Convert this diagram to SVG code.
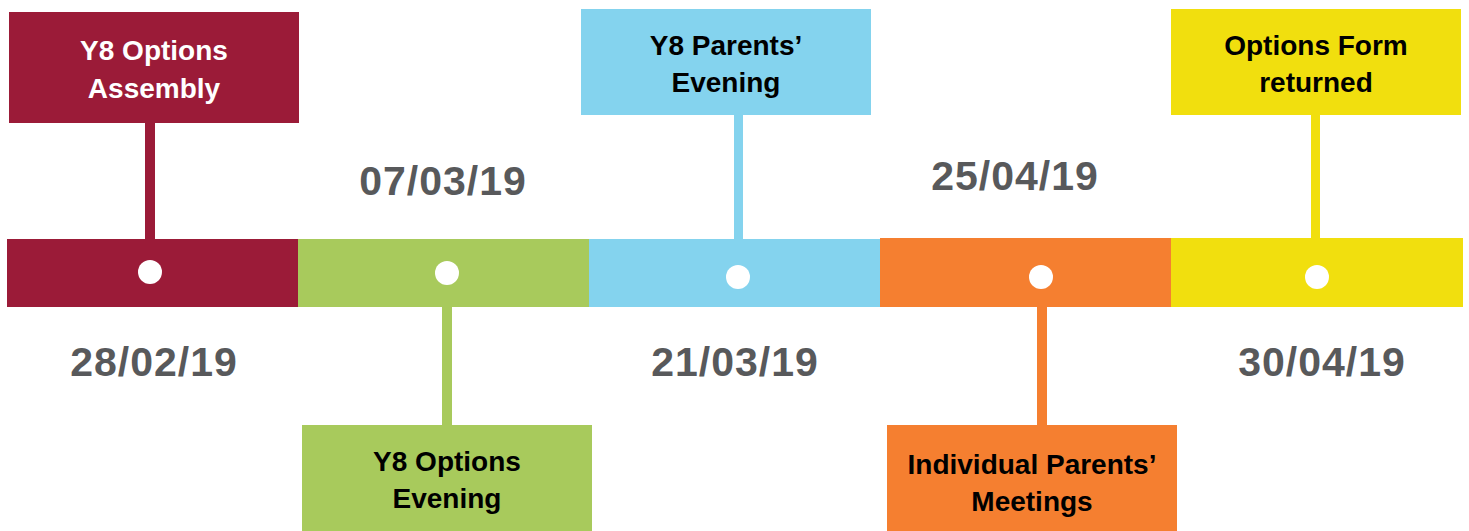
<svg xmlns="http://www.w3.org/2000/svg" width="1469" height="531" viewBox="0 0 1469 531">
<style>
.t{font-family:"Liberation Sans",Arial,sans-serif;font-weight:bold;font-size:28px;text-anchor:middle}
.d{font-family:"Liberation Sans",Arial,sans-serif;font-weight:bold;font-size:41px;letter-spacing:1px;text-anchor:middle;fill:#58595b}
.dot{fill:#ffffff}
</style>
<rect width="1469" height="531" fill="#ffffff"/>
<g id="connectors">
<rect x="145" y="120" width="10" height="122" fill="#9b1b38"/>
<rect x="442" y="304" width="10" height="124" fill="#a8ca5c"/>
<rect x="734" y="112" width="9" height="130" fill="#84d3ee"/>
<rect x="1037" y="304" width="10" height="124" fill="#f57f30"/>
<rect x="1311" y="112" width="9" height="129" fill="#f1df0e"/>
</g>
<g id="timeline">
<rect x="7" y="239" width="292" height="68" fill="#9b1b38"/>
<rect x="298" y="239" width="292" height="68" fill="#a8ca5c"/>
<rect x="589" y="239" width="292" height="68" fill="#84d3ee"/>
<rect x="880" y="238" width="292" height="69" fill="#f57f30"/>
<rect x="1171" y="238" width="292" height="69" fill="#f1df0e"/>
<circle class="dot" cx="150" cy="272" r="12"/>
<circle class="dot" cx="447" cy="273" r="12"/>
<circle class="dot" cx="738" cy="277" r="12"/>
<circle class="dot" cx="1041" cy="277" r="12"/>
<circle class="dot" cx="1317" cy="277" r="12"/>
</g>
<g id="n1">
<rect x="9" y="12" width="290" height="111" fill="#9b1b38"/>
<text class="t" x="154" y="60" fill="#ffffff">Y8 Options</text>
<text class="t" x="154" y="98" fill="#ffffff">Assembly</text>
<text class="d" x="154" y="376">28/02/19</text>
</g>
<g id="n2">
<rect x="302" y="425" width="290" height="106" fill="#a8ca5c"/>
<text class="t" x="447" y="471" fill="#000000">Y8 Options</text>
<text class="t" x="447" y="508" fill="#000000">Evening</text>
<text class="d" x="443" y="195">07/03/19</text>
</g>
<g id="n3">
<rect x="581" y="9" width="290" height="106" fill="#84d3ee"/>
<text class="t" x="726" y="55" fill="#000000">Y8 Parents’</text>
<text class="t" x="726" y="92" fill="#000000">Evening</text>
<text class="d" x="735" y="376">21/03/19</text>
</g>
<g id="n4">
<rect x="887" y="425" width="290" height="106" fill="#f57f30"/>
<text class="t" x="1032" y="474" fill="#000000">Individual Parents’</text>
<text class="t" x="1032" y="511" fill="#000000">Meetings</text>
<text class="d" x="1015" y="190">25/04/19</text>
</g>
<g id="n5">
<rect x="1171" y="9" width="290" height="106" fill="#f1df0e"/>
<text class="t" x="1316" y="55" fill="#000000">Options Form</text>
<text class="t" x="1316" y="92" fill="#000000">returned</text>
<text class="d" x="1322" y="376">30/04/19</text>
</g>
</svg>
